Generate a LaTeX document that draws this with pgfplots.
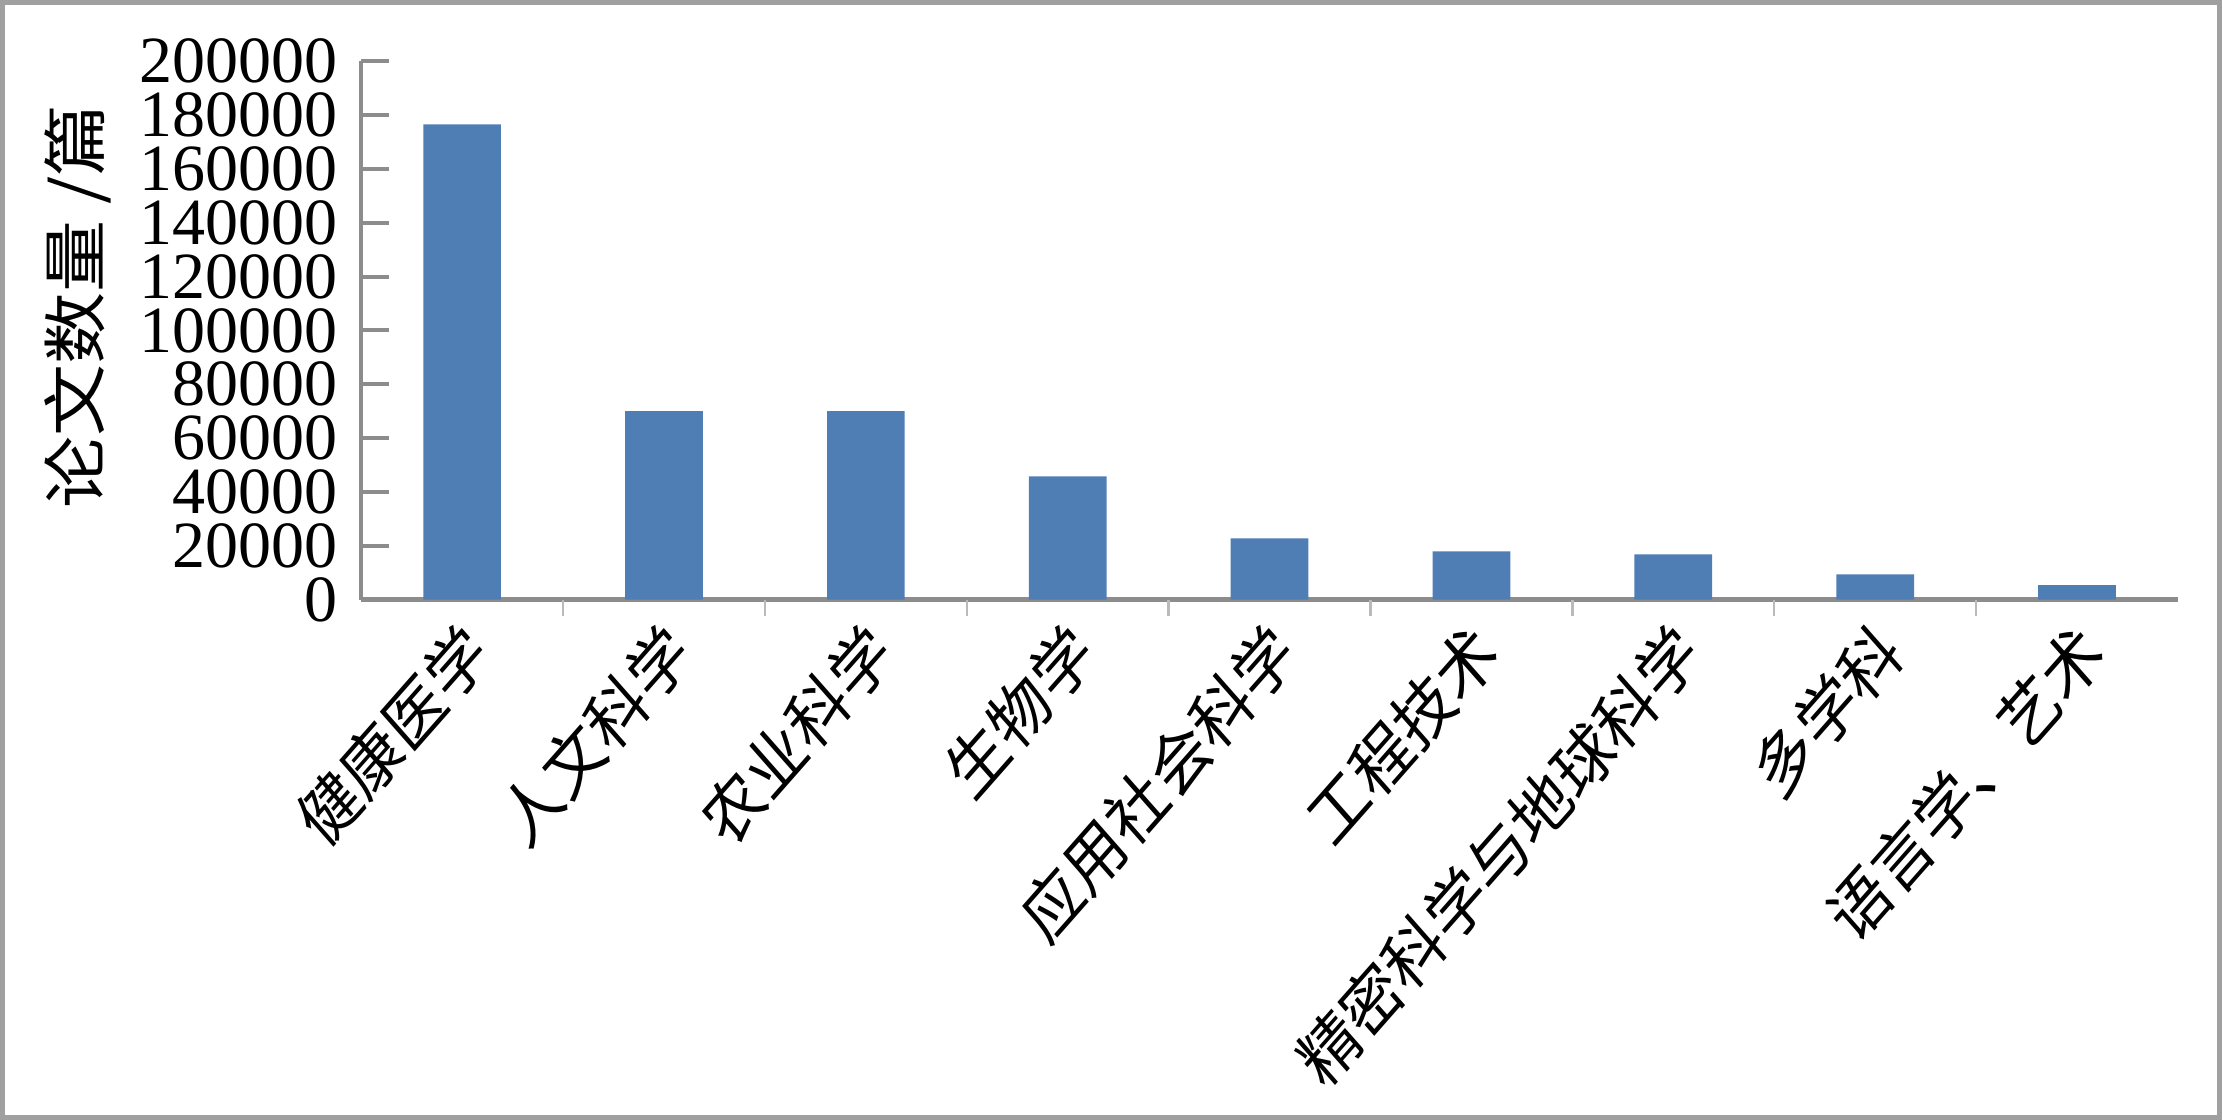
\documentclass[border=0pt]{standalone}
\usepackage{fontspec}
\setmainfont{Liberation Serif}
\newfontfamily\cjk{Noto Sans CJK SC}
\usepackage{pgfplots}
\pgfplotsset{compat=1.18}
\definecolor{barblue}{RGB}{79,126,180}
\definecolor{axisgray}{RGB}{140,140,140}
\definecolor{framegray}{RGB}{160,160,160}
\begin{document}
\begin{tikzpicture}
\useasboundingbox (0,0) rectangle (555.5pt,280pt);
\draw[framegray, line width=1.2pt] (0.6pt,0.6pt) rectangle (554.9pt,279.4pt);
\begin{axis}[
  at={(90.3pt,130.1pt)}, anchor=south west,
  scale only axis, width=454.2pt, height=134.6pt,
  xmin=-0.5, xmax=8.5, ymin=0, ymax=200000,
  axis x line*=bottom, axis y line*=left,
  axis line style={axisgray, line width=1.1pt},
  ytick={0,20000,40000,60000,80000,100000,120000,140000,160000,180000,200000},
  yticklabels={0,20000,40000,60000,80000,100000,120000,140000,160000,180000,200000},
  scaled y ticks=false,
  yticklabel style={font=\fontsize{16.5}{18}\selectfont, inner sep=0pt, xshift=-5.7pt, anchor=east},
  ytick style={axisgray, line width=1pt},
  ytick align=inside,
  major tick length=7pt,
  xtick={0,1,2,3,4,5,6,7,8},
  xticklabels={健康医学,人文科学,农业科学,生物学,应用社会科学,工程技术,精密科学与地球科学,多学科,语言学、艺术},
  xtick style={draw=none},
  xticklabel style={font=\cjk\fontsize{17}{19}\selectfont, inner sep=0pt, xshift=4.0pt, yshift=-9.8pt, xscale=0.88, rotate=45, anchor=east},
  extra x ticks={0.5,1.5,2.5,3.5,4.5,5.5,6.5,7.5},
  extra x tick labels={\empty,\empty,\empty,\empty,\empty,\empty,\empty,\empty},
  extra x tick style={xtick style={draw=axisgray!60, line width=0.6pt}, major tick length=4pt, xtick align=outside},
  ylabel={论文数量 /篇},
  every axis y label/.style={at={(axis description cs:0,0.5)}, xshift=-70.8pt, yshift=6pt, rotate=90, yscale=0.9, anchor=center, font=\cjk\fontsize{18}{20}\selectfont},
]
\addplot[ybar, bar width=0.385, fill=barblue, draw=none] coordinates {
  (0,176500) (1,70000) (2,70000) (3,45800) (4,22700) (5,17900) (6,16800) (7,9400) (8,5400)
};
\end{axis}
\end{tikzpicture}
\end{document}
